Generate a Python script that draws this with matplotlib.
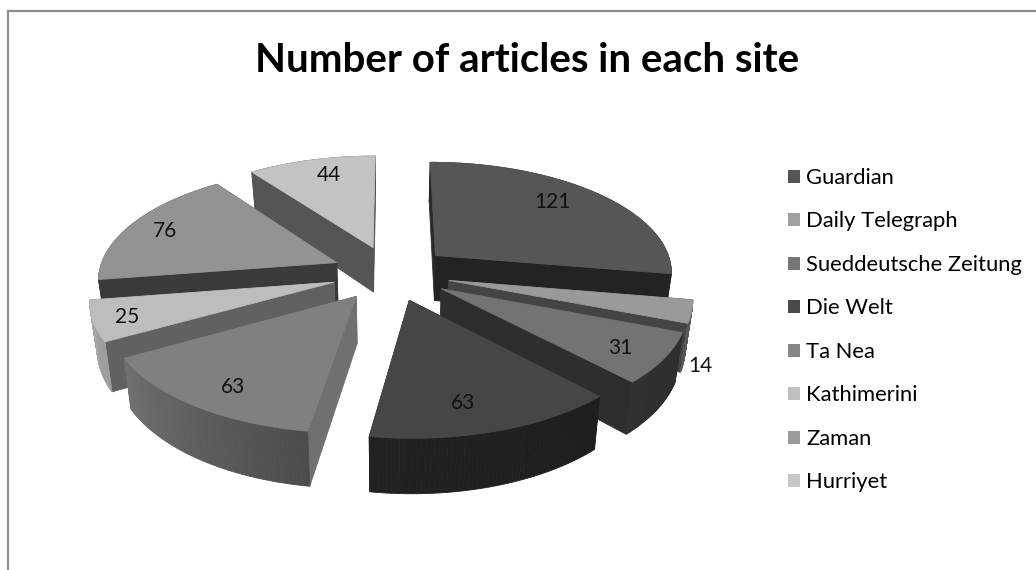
import numpy as np
import matplotlib
matplotlib.use("Agg")
import matplotlib.pyplot as plt
from matplotlib.patches import Patch

sites = ["Guardian", "Daily Telegraph", "Sueddeutsche Zeitung", "Die Welt",
         "Ta Nea", "Kathimerini", "Zaman", "Hurriyet"]
articles = [121, 14, 31, 63, 63, 25, 76, 44]

# greys: top, rim start, rim end, start cut, end cut
top_col = ["#565656", "#9a9a9a", "#737373", "#464646", "#808080", "#bdbdbd", "#939393", "#c3c3c3"]
rim_a = ["#242424", "#585858", "#2e2e2e", "#1e1e1e", "#4c4c4c", "#9c9c9c", "#3a3a3a", "#555555"]
rim_b = ["#242424", "#585858", "#303030", "#222222", "#707070", "#a8a8a8", "#3a3a3a", "#555555"]
cut_a = ["#2b2b2b", "#484848", "#444444", "#2a2a2a", "#707070", "#616161", "#3a3a3a", "#555555"]
cut_b = ["#232323", "#444444", "#2e2e2e", "#2a2a2a", "#707070", "#616161", "#3a3a3a", "#555555"]
legend_col = ["#555555", "#a0a0a0", "#777777", "#4a4a4a", "#868686", "#c0c0c0", "#9b9b9b", "#c8c8c8"]
label_xy = [(552, 202), (700, 366), (620, 348), (463, 403), (233, 387), (127, 317), (165, 231), (329, 175)]

# projection of the tilted pie
cx, cy = 391, 273
rx, ry = 238, 110.6
persp = 0.138
explode = 0.25
depth = 46


def project(x, y, z=0.0):
    s = 1 / (1 - persp * y)
    return cx + rx * x * s * (1 - 0.025 * z), cy + ry * y * s + depth * s * z


def quad(ax, px, py, color, zorder):
    ax.fill(px, py, color=color, lw=0.6, zorder=zorder)


fig = plt.figure(figsize=(10.36, 5.7), dpi=100, facecolor="white")
ax = fig.add_axes([0, 0, 1, 1])
ax.set_xlim(0, 1036)
ax.set_ylim(570, 0)
ax.axis("off")

ax.plot([7.5, 7.5, 1036], [570, 10.5, 10.5], color="#8c8c8c", lw=1.6, solid_joinstyle="miter")

vals = np.array(articles, dtype=float)
edges = np.concatenate([[0], np.cumsum(vals) / vals.sum() * 2 * np.pi])
mids = (edges[:-1] + edges[1:]) / 2
order = np.argsort(-np.cos(mids))

z = 2
for i in order:
    t0, t1 = edges[i], edges[i + 1]
    ox = explode * np.sin(mids[i])
    oy = -explode * np.cos(mids[i])
    t = np.linspace(t0, t1, 60)
    wx = ox + np.sin(t)
    wy = oy - np.cos(t)

    # cut faces
    for k, col in ((0, cut_a[i]), (-1, cut_b[i])):
        a0 = project(ox, oy)
        a1 = project(ox, oy, 1)
        b0 = project(wx[k], wy[k])
        b1 = project(wx[k], wy[k], 1)
        quad(ax, [a0[0], b0[0], b1[0], a1[0]], [a0[1], b0[1], b1[1], a1[1]], col, z)

    # rim, shaded along the arc
    ca = np.array(matplotlib.colors.to_rgb(rim_a[i]))
    cb = np.array(matplotlib.colors.to_rgb(rim_b[i]))
    for j in range(len(t) - 1):
        p0 = project(wx[j], wy[j])
        p1 = project(wx[j + 1], wy[j + 1])
        q0 = project(wx[j], wy[j], 1)
        q1 = project(wx[j + 1], wy[j + 1], 1)
        col = ca + (cb - ca) * j / (len(t) - 2)
        quad(ax, [p0[0], p1[0], q1[0], q0[0]], [p0[1], p1[1], q1[1], q0[1]], tuple(col), z)

    # top face
    tx, ty = project(np.r_[ox, wx], np.r_[oy, wy])
    quad(ax, tx, ty, top_col[i], z + 1)
    z += 2

for n, (lx, ly) in zip(articles, label_xy):
    ax.text(lx, ly, str(n), ha="center", va="center", fontsize=15, color="#111111",
            family="Lato", zorder=40)

ax.text(527, 60, "Number of articles in each site", ha="center", va="center",
        fontsize=29, fontweight="bold", family="Lato", color="black")

handles = [Patch(facecolor=c, edgecolor="none") for c in legend_col]
ax.legend(handles, sites, loc="upper left", bbox_to_anchor=(788, 168), bbox_transform=ax.transData,
          frameon=False, prop={"family": "Lato", "size": 15.8}, labelspacing=1.07,
          handlelength=0.55, handleheight=0.55, handletextpad=0.27, borderpad=0, borderaxespad=0)

fig.savefig("out.png", dpi=100)
